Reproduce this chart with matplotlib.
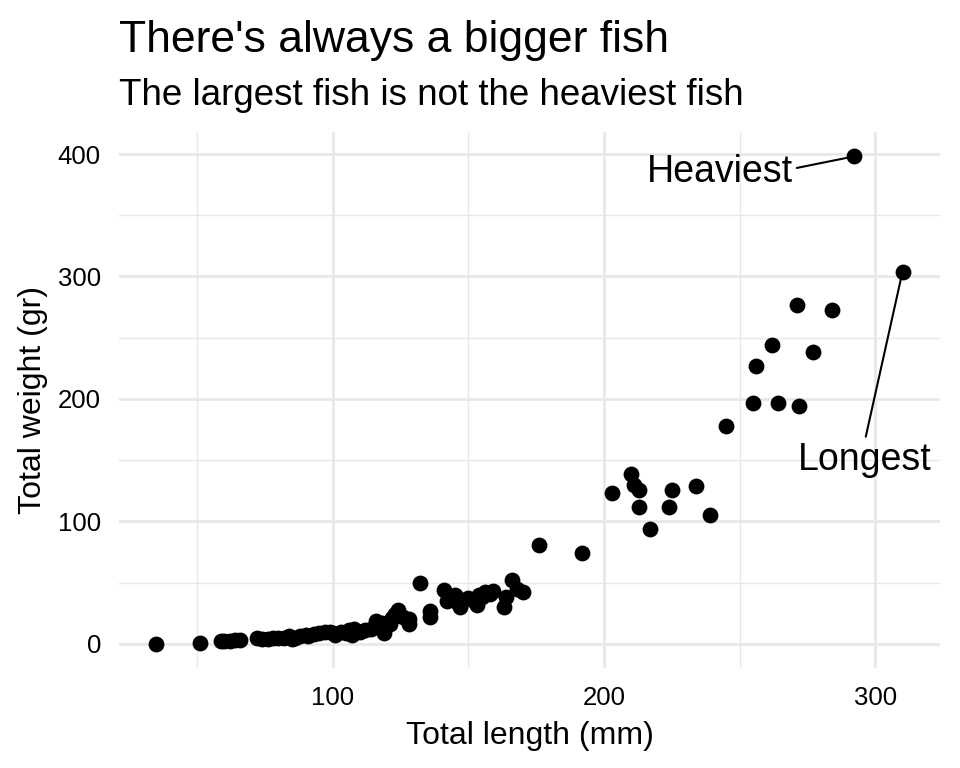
import matplotlib.pyplot as plt
from matplotlib.ticker import MultipleLocator

plt.rcParams['font.family'] = ['Liberation Sans', 'DejaVu Sans']

# 鱼的长度 (mm) 和重量 (gr)，从图上读出来的
length_mm = [35, 51, 59, 60, 62, 64, 66,
             72, 74, 76, 78, 80, 82, 84, 85, 86, 88, 90, 91, 93, 95, 97, 99, 100,
             101, 103, 105, 106, 107, 108, 110, 112, 114,
             116, 117, 118, 119, 121, 122, 123, 124, 126, 128, 128,
             132, 136, 136,
             141, 142, 144, 145, 146, 147, 148, 150, 152, 153, 154, 155, 156, 158, 159,
             163, 164, 166, 168, 170,
             176, 192, 203, 210, 211, 213, 213, 217, 224, 225, 234, 239, 245,
             255, 256, 262, 264, 271, 272, 277, 284, 292, 310]
weight_gr = [0, 1, 2, 2, 2, 3, 3,
             5, 4, 4, 5, 5, 5, 6, 4, 5, 6, 7, 6, 8, 9, 10, 10, 9,
             7, 10, 9, 11, 7, 12, 10, 11, 12,
             19, 14, 17, 9, 16, 21, 24, 28, 22, 16, 20,
             50, 27, 22,
             44, 35, 38, 40, 33, 30, 36, 37, 35, 32, 40, 38, 42, 41, 43,
             30, 38, 52, 45, 42,
             81, 74, 123, 139, 130, 126, 112, 94, 112, 126, 129, 105, 178,
             197, 227, 244, 197, 277, 194, 238, 273, 398, 304]

# 标注：最重的和最长的
heaviest_i = weight_gr.index(max(weight_gr))
longest_i = length_mm.index(max(length_mm))

fig = plt.figure(figsize=(9.6, 7.68), dpi=100)
ax = fig.add_axes([0.124, 0.130, 0.855, 0.698])

ax.scatter(length_mm, weight_gr, s=130, color='black', zorder=3, linewidths=0)

ax.margins(0.05)
ax.xaxis.set_major_locator(MultipleLocator(100))
ax.xaxis.set_minor_locator(MultipleLocator(50))
ax.yaxis.set_major_locator(MultipleLocator(100))
ax.yaxis.set_minor_locator(MultipleLocator(50))
ax.grid(which='major', color='#E8E8E8', linewidth=2.0)
ax.grid(which='minor', color='#E8E8E8', linewidth=1.0)
ax.set_axisbelow(True)
for s in ax.spines.values():
    s.set_visible(False)
ax.tick_params(which='both', length=0, labelsize=18.5, pad=13, colors='black')

ax.set_xlabel('Total length (mm)', fontsize=23, labelpad=8)
ax.set_ylabel('Total weight (gr)', fontsize=23, labelpad=7)

ax.annotate('Heaviest', xy=(length_mm[heaviest_i], weight_gr[heaviest_i]),
            xytext=(269.5, 385), ha='right', va='center', fontsize=27,
            arrowprops=dict(arrowstyle='-', color='black', lw=1.5,
                            shrinkA=1, shrinkB=0, relpos=(1, 0.6)))
ax.annotate('Longest', xy=(length_mm[longest_i], weight_gr[longest_i]),
            xytext=(296, 150), ha='center', va='center', fontsize=27,
            arrowprops=dict(arrowstyle='-', color='black', lw=1.5,
                            shrinkA=2, shrinkB=0, relpos=(0.5, 1)))

fig.text(0.124, 1 - 52 / 768, "There's always a bigger fish", fontsize=32,
         va='baseline', ha='left')
fig.text(0.124, 1 - 105 / 768, 'The largest fish is not the heaviest fish',
         fontsize=26.5, va='baseline', ha='left')

fig.savefig('out.png', dpi=100)
